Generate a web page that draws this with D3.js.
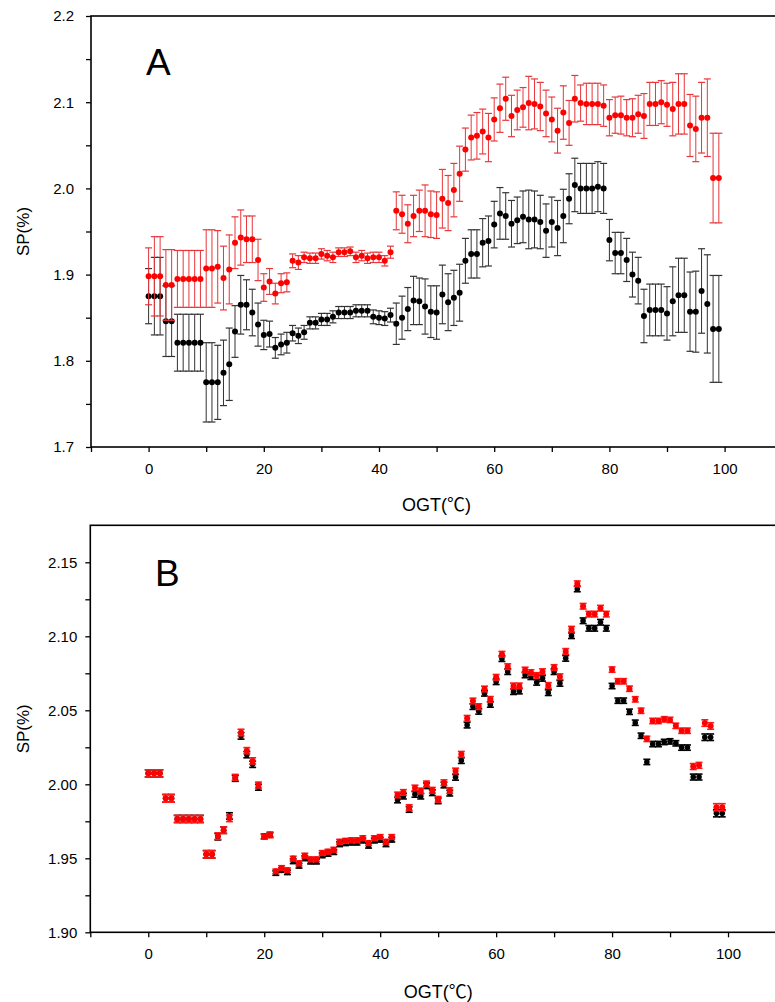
<!DOCTYPE html>
<html>
<head>
<meta charset="utf-8">
<script src="https://cdn.jsdelivr.net/npm/d3@7"></script>
<style>
  html, body { margin: 0; padding: 0; background: #fff; }
  svg { display: block; }
  text { font-family: "Liberation Sans", Arial, "Noto Sans CJK SC", sans-serif; fill: #000; }
</style>
</head>
<body>
<svg id="chart" width="775" height="1002"></svg>
<script>
// Optimal growth temperature (°C) of each group
const ogt = [0,1,2,3,4,5,6,7,8,9,10,11,12,13,14,15,16,17,18,19,
  20,21,22,23,24,25,26,27,28,29,30,31,32,33,34,35,36,37,38,39,
  40,41,42,43,44,45,46,47,48,49,50,51,52,53,54,55,56,57,58,59,
  60,61,62,63,64,65,66,67,68,69,70,71,72,73,74,75,76,77,78,79,
  80,81,82,83,84,85,86,87,88,89,90,91,92,93,94,95,96,97,98,99];

// Panel A: SP(%) mean and error, red series
const aRed = [1.898,1.898,1.898,1.888,1.888,1.895,1.895,1.895,1.895,1.895,
  1.907,1.907,1.909,1.896,1.906,1.937,1.943,1.941,1.941,1.917,
  1.885,1.892,1.878,1.890,1.891,1.916,1.914,1.920,1.919,1.919,
  1.924,1.922,1.920,1.926,1.926,1.927,1.920,1.922,1.919,1.920,
  1.920,1.916,1.926,1.974,1.970,1.959,1.968,1.974,1.974,1.970,
  1.969,1.988,1.983,1.998,2.017,2.045,2.059,2.061,2.066,2.059,
  2.080,2.093,2.104,2.084,2.091,2.094,2.099,2.098,2.095,2.087,
  2.080,2.067,2.088,2.076,2.104,2.099,2.098,2.098,2.098,2.096,
  2.082,2.085,2.085,2.082,2.082,2.086,2.084,2.098,2.098,2.100,
  2.097,2.092,2.098,2.098,2.073,2.069,2.082,2.082,2.012,2.012];
const aRedErr = [0.033,0.046,0.046,0.041,0.041,0.033,0.033,0.033,0.033,0.033,
  0.045,0.045,0.042,0.037,0.040,0.030,0.032,0.027,0.027,0.024,
  0.016,0.015,0.012,0.011,0.011,0.008,0.008,0.006,0.006,0.006,
  0.006,0.006,0.006,0.005,0.005,0.005,0.006,0.006,0.006,0.006,
  0.006,0.006,0.007,0.022,0.022,0.022,0.024,0.024,0.030,0.027,
  0.027,0.034,0.032,0.031,0.032,0.025,0.026,0.027,0.026,0.028,
  0.025,0.028,0.025,0.024,0.023,0.023,0.031,0.029,0.028,0.027,
  0.026,0.026,0.031,0.026,0.027,0.021,0.024,0.024,0.024,0.024,
  0.021,0.021,0.022,0.021,0.022,0.022,0.026,0.025,0.025,0.025,
  0.025,0.031,0.035,0.035,0.036,0.038,0.041,0.045,0.052,0.052];

// Panel A: black series
const aBlack = [1.875,1.875,1.875,1.846,1.846,1.821,1.821,1.821,1.821,1.821,
  1.775,1.775,1.775,1.786,1.796,1.834,1.865,1.865,1.856,1.842,
  1.830,1.831,1.815,1.819,1.821,1.832,1.829,1.833,1.844,1.844,
  1.848,1.848,1.851,1.856,1.856,1.856,1.858,1.858,1.858,1.851,
  1.850,1.849,1.853,1.843,1.850,1.860,1.870,1.869,1.863,1.857,
  1.856,1.877,1.868,1.873,1.879,1.916,1.924,1.924,1.937,1.939,
  1.958,1.971,1.968,1.959,1.963,1.967,1.964,1.964,1.961,1.951,
  1.961,1.954,1.968,1.988,2.004,2.000,2.000,2.000,2.002,2.000,
  1.940,1.925,1.925,1.917,1.900,1.893,1.852,1.859,1.859,1.859,
  1.855,1.869,1.876,1.876,1.857,1.857,1.881,1.866,1.837,1.837];
const aBlackErr = [0.032,0.045,0.045,0.041,0.041,0.033,0.033,0.033,0.033,0.033,
  0.046,0.046,0.043,0.038,0.042,0.030,0.034,0.029,0.027,0.025,
  0.017,0.015,0.012,0.012,0.012,0.009,0.009,0.008,0.007,0.007,
  0.007,0.007,0.007,0.007,0.007,0.007,0.007,0.007,0.007,0.008,
  0.008,0.008,0.008,0.024,0.025,0.025,0.028,0.027,0.032,0.030,
  0.031,0.034,0.033,0.032,0.033,0.026,0.028,0.028,0.028,0.029,
  0.027,0.030,0.027,0.027,0.027,0.030,0.034,0.033,0.031,0.031,
  0.029,0.032,0.031,0.029,0.031,0.029,0.029,0.029,0.029,0.029,
  0.024,0.024,0.024,0.025,0.026,0.027,0.031,0.030,0.030,0.030,
  0.031,0.040,0.043,0.043,0.046,0.047,0.049,0.057,0.062,0.062];

// Panel B: red series
const bRed = [2.0074,2.0074,2.0074,1.9905,1.9905,1.9766,1.9766,1.9766,1.9766,1.9766,
  1.9527,1.9527,1.9650,1.9690,1.9770,2.0047,2.0350,2.0227,2.0158,1.9995,
  1.9646,1.9655,1.9412,1.9435,1.9420,1.9498,1.9466,1.9518,1.9493,1.9493,
  1.9536,1.9545,1.9558,1.9612,1.9618,1.9622,1.9622,1.9636,1.9603,1.9636,
  1.9644,1.9612,1.9644,1.9928,1.9945,1.9843,1.9975,1.9955,2.0003,1.9960,
  1.9899,2.0011,1.9958,2.0090,2.0203,2.0446,2.0563,2.0525,2.0644,2.0574,
  2.0723,2.0879,2.0795,2.0665,2.0665,2.0772,2.0755,2.0735,2.0761,2.0668,
  2.0789,2.0727,2.0898,2.1048,2.1355,2.1203,2.1150,2.1150,2.1190,2.1150,
  2.0775,2.0696,2.0696,2.0646,2.0574,2.0497,2.0307,2.0428,2.0428,2.0439,
  2.0435,2.0395,2.0362,2.0362,2.0120,2.0128,2.0414,2.0394,1.9845,1.9845];
const bRedErr = [0.0024,0.0024,0.0024,0.0026,0.0026,0.0024,0.0024,0.0024,0.0024,0.0024,
  0.0025,0.0025,0.0022,0.0022,0.0022,0.0020,0.0022,0.0021,0.0021,0.0020,
  0.0016,0.0016,0.0015,0.0015,0.0015,0.0016,0.0016,0.0016,0.0016,0.0016,
  0.0016,0.0016,0.0016,0.0016,0.0016,0.0016,0.0016,0.0016,0.0016,0.0016,
  0.0016,0.0016,0.0016,0.0019,0.0019,0.0019,0.0019,0.0019,0.0019,0.0019,
  0.0019,0.0019,0.0019,0.0019,0.0019,0.0019,0.0019,0.0019,0.0019,0.0019,
  0.0019,0.0019,0.0019,0.0019,0.0019,0.0019,0.0019,0.0019,0.0019,0.0019,
  0.0019,0.0019,0.0019,0.0019,0.0019,0.0019,0.0019,0.0019,0.0019,0.0019,
  0.0018,0.0018,0.0018,0.0018,0.0018,0.0018,0.0018,0.0018,0.0018,0.0018,
  0.0018,0.0018,0.0018,0.0018,0.0020,0.0020,0.0022,0.0022,0.0024,0.0024];

// Panel B: black series
const bBlack = [2.0074,2.0074,2.0074,1.9905,1.9905,1.9766,1.9766,1.9766,1.9766,1.9766,
  1.9527,1.9527,1.9646,1.9690,1.9786,2.0040,2.0327,2.0200,2.0135,1.9980,
  1.9648,1.9660,1.9400,1.9420,1.9405,1.9480,1.9450,1.9500,1.9478,1.9478,
  1.9520,1.9530,1.9542,1.9595,1.9602,1.9606,1.9606,1.9620,1.9585,1.9620,
  1.9626,1.9595,1.9626,1.9894,1.9920,1.9830,1.9932,1.9920,1.9990,1.9943,
  1.9888,1.9995,1.9940,2.0047,2.0160,2.0400,2.0525,2.0493,2.0615,2.0540,
  2.0693,2.0849,2.0761,2.0626,2.0630,2.0739,2.0727,2.0689,2.0716,2.0619,
  2.0761,2.0682,2.0851,2.1004,2.1320,2.1105,2.1054,2.1054,2.1095,2.1054,
  2.0664,2.0565,2.0565,2.0490,2.0416,2.0328,2.0151,2.0272,2.0272,2.0286,
  2.0290,2.0277,2.0248,2.0248,2.0049,2.0049,2.0318,2.0318,1.9804,1.9804];
const bBlackErr = [0.0024,0.0024,0.0024,0.0026,0.0026,0.0024,0.0024,0.0024,0.0024,0.0024,
  0.0025,0.0025,0.0022,0.0022,0.0022,0.0020,0.0022,0.0021,0.0021,0.0020,
  0.0016,0.0016,0.0015,0.0015,0.0015,0.0016,0.0016,0.0016,0.0016,0.0016,
  0.0016,0.0016,0.0016,0.0016,0.0016,0.0016,0.0016,0.0016,0.0016,0.0016,
  0.0016,0.0016,0.0016,0.0019,0.0019,0.0019,0.0019,0.0019,0.0019,0.0019,
  0.0019,0.0019,0.0019,0.0019,0.0019,0.0019,0.0019,0.0019,0.0019,0.0019,
  0.0019,0.0019,0.0019,0.0019,0.0019,0.0019,0.0019,0.0019,0.0019,0.0019,
  0.0019,0.0019,0.0019,0.0019,0.0019,0.0019,0.0019,0.0019,0.0019,0.0019,
  0.0018,0.0018,0.0018,0.0018,0.0018,0.0018,0.0018,0.0018,0.0018,0.0018,
  0.0018,0.0018,0.0018,0.0018,0.0020,0.0020,0.0022,0.0022,0.0024,0.0024];

// Axis ticks and labels
const xTicks = [-10,0,10,20,30,40,50,60,70,80,90,100,110];
const xLabels = [0,20,40,60,80,100];
const aYTicks = [1.70,1.75,1.80,1.85,1.90,1.95,2.00,2.05,2.10,2.15,2.20];
const aYLabels = [1.7,1.8,1.9,2.0,2.1,2.2];
const bYTicks = [1.900,1.925,1.950,1.975,2.000,2.025,2.050,2.075,2.100,2.125,2.150];
const bYLabels = [1.90,1.95,2.00,2.05,2.10,2.15];

const svg = d3.select("#chart");
svg.append("rect").attr("width", 775).attr("height", 1002).attr("fill", "#fff");

function drawPanel(cfg) {
  const x = d3.scaleLinear().domain([-10, 110]).range([cfg.left, cfg.right]);
  const y = d3.scaleLinear().domain(cfg.yDomain).range([cfg.bottom, cfg.top]);
  const g = svg.append("g");

  // x axis (ticks outward, labels only on every 20)
  const isLabel = (v, list) => list.some(l => Math.abs(l - v) < 1e-9);
  const xAxis = d3.axisBottom(x)
    .tickValues(xTicks)
    .tickSizeInner(5).tickSizeOuter(0).tickPadding(11)
    .tickFormat(d => isLabel(d, xLabels) ? String(d) : "");
  const gx = g.append("g").attr("transform", `translate(0,${cfg.bottom})`).call(xAxis);
  gx.select(".domain").remove();
  gx.selectAll(".tick line").attr("stroke", "#000").attr("stroke-width", 1.3);
  gx.selectAll(".tick text").attr("font-size", 15).attr("font-family", "Liberation Sans, Arial, sans-serif");

  const yAxis = d3.axisLeft(y)
    .tickValues(cfg.yTicks)
    .tickSizeInner(5).tickSizeOuter(0).tickPadding(cfg.yPad)
    .tickFormat(d => isLabel(d, cfg.yLabels) ? d3.format(cfg.yFmt)(d) : "");
  const gy = g.append("g").attr("transform", `translate(${cfg.left},0)`).call(yAxis);
  gy.select(".domain").remove();
  gy.selectAll(".tick line").attr("stroke", "#000").attr("stroke-width", 1.3);
  gy.selectAll(".tick text").attr("font-size", 15).attr("font-family", "Liberation Sans, Arial, sans-serif");

  // plot frame
  g.append("rect")
    .attr("x", cfg.left).attr("y", cfg.top)
    .attr("width", cfg.right - cfg.left).attr("height", cfg.bottom - cfg.top)
    .attr("fill", "none").attr("stroke", "#000").attr("stroke-width", 1.6);

  // error bars and markers for each series
  cfg.series.forEach(s => {
    const sg = g.append("g");
    const cap = 3.5;
    const pts = ogt.map((o, i) => ({ o, v: s.vals[i], e: s.errs[i] }));
    sg.selectAll("line.v").data(pts).join("line")
      .attr("x1", d => x(d.o)).attr("x2", d => x(d.o))
      .attr("y1", d => y(d.v - d.e)).attr("y2", d => y(d.v + d.e))
      .attr("stroke", s.bar).attr("stroke-width", 1);
    sg.selectAll("line.t").data(pts).join("line")
      .attr("x1", d => x(d.o) - cap).attr("x2", d => x(d.o) + cap)
      .attr("y1", d => y(d.v + d.e)).attr("y2", d => y(d.v + d.e))
      .attr("stroke", s.bar).attr("stroke-width", s.capW);
    sg.selectAll("line.b").data(pts).join("line")
      .attr("x1", d => x(d.o) - cap).attr("x2", d => x(d.o) + cap)
      .attr("y1", d => y(d.v - d.e)).attr("y2", d => y(d.v - d.e))
      .attr("stroke", s.bar).attr("stroke-width", s.capW);
    sg.selectAll("circle").data(pts).join("circle")
      .attr("cx", d => x(d.o)).attr("cy", d => y(d.v))
      .attr("r", s.r).attr("fill", s.dot);
  });

  // panel letter
  g.append("text").attr("x", cfg.letterX).attr("y", cfg.letterY)
    .attr("font-size", 37).text(cfg.letter);

  // axis titles
  g.append("text")
    .attr("transform", `translate(${cfg.yTitleX},${(cfg.top + cfg.bottom) / 2}) rotate(-90)`)
    .attr("text-anchor", "middle").attr("font-size", 17).text("SP(%)");
  g.append("text")
    .attr("x", (cfg.left + cfg.right) / 2).attr("y", cfg.xTitleY)
    .attr("text-anchor", "middle").attr("font-size", 18)
    .attr("font-family", "Liberation Sans, Arial, Noto Sans CJK SC, sans-serif")
    .text("OGT(℃)");
}

drawPanel({
  top: 16, bottom: 447, left: 91, right: 782.2,
  yDomain: [1.7, 2.2], yTicks: aYTicks, yLabels: aYLabels, yFmt: ".1f", yPad: 12,
  letter: "A", letterX: 146, letterY: 75,
  yTitleX: 29, xTitleY: 511,
  series: [
    { vals: aBlack, errs: aBlackErr, dot: "#000", bar: "#333", r: 3, capW: 1.2 },
    { vals: aRed, errs: aRedErr, dot: "#ff0000", bar: "#e8363a", r: 3, capW: 1.2 }
  ]
});

drawPanel({
  top: 525.3, bottom: 932.3, left: 90.3, right: 786,
  yDomain: [1.90, 2.175], yTicks: bYTicks, yLabels: bYLabels, yFmt: ".2f", yPad: 8,
  letter: "B", letterX: 155, letterY: 586,
  yTitleX: 29, xTitleY: 998,
  series: [
    { vals: bBlack, errs: bBlackErr, dot: "#000", bar: "#000", r: 2.8, capW: 1.6 },
    { vals: bRed, errs: bRedErr, dot: "#ff0000", bar: "#ff1a1a", r: 3, capW: 1.6 }
  ]
});
</script>
</body>
</html>
